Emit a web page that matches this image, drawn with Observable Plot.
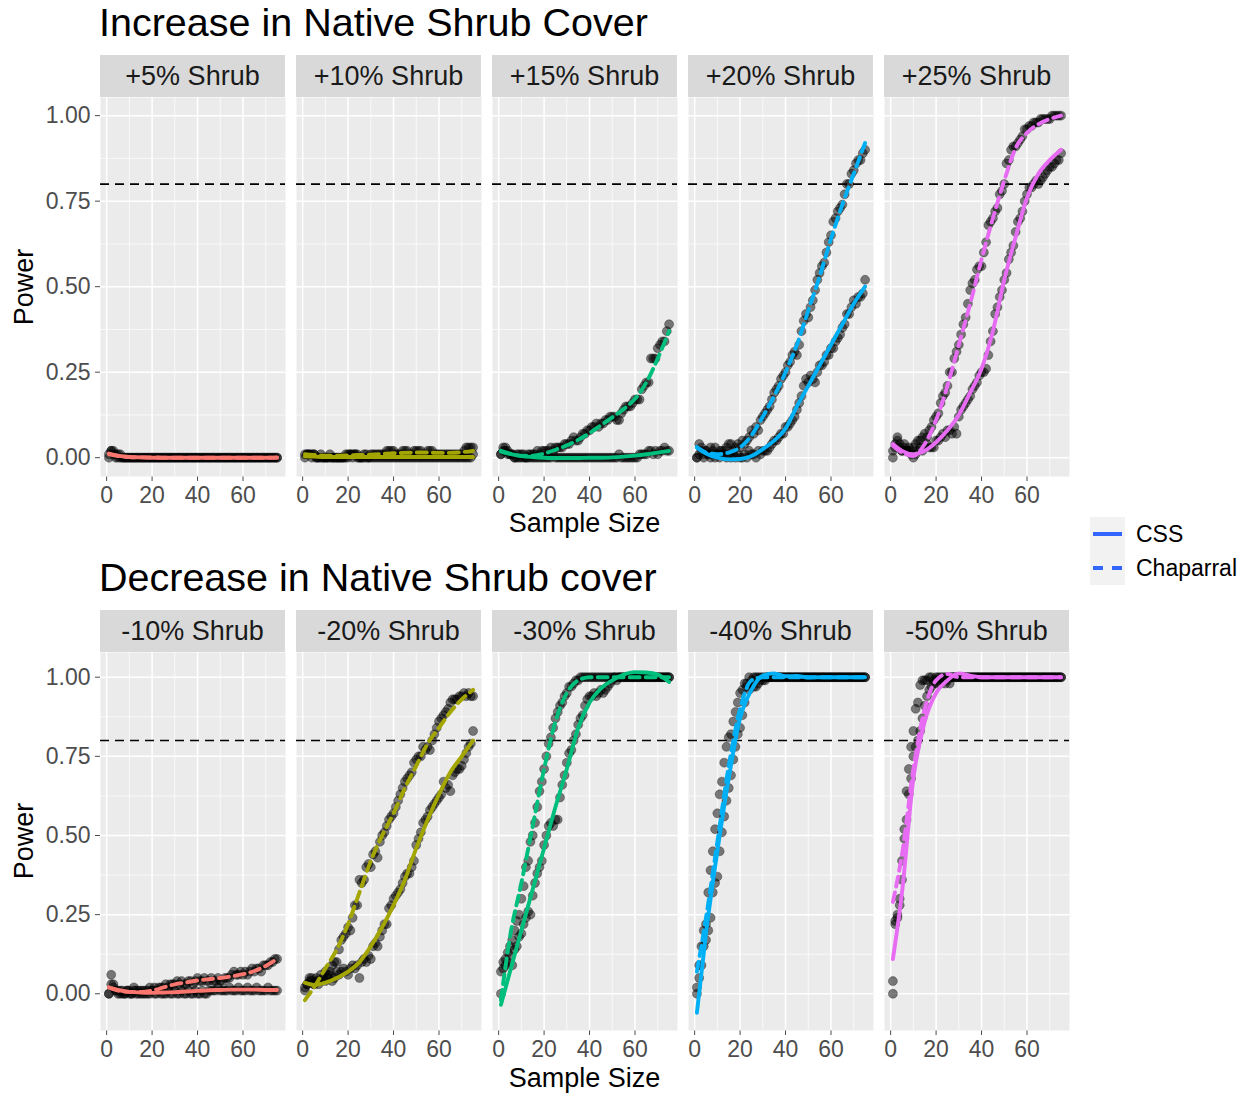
<!DOCTYPE html>
<html>
<head>
<meta charset="utf-8">
<script src="https://cdn.jsdelivr.net/npm/d3@7"></script>
<script src="https://cdn.jsdelivr.net/npm/@observablehq/plot@0.6"></script>
<style>
  html, body { margin: 0; padding: 0; background: #fff; }
  #chart { position: relative; width: 1251px; height: 1095px; font-family: "Liberation Sans", Arial, sans-serif; overflow: hidden; }
  .title { position: absolute; font-size: 39.5px; line-height: 1; color: #000; white-space: nowrap; }
  .strip { position: absolute; background: #D9D9D9; color: #1A1A1A; font-size: 27px; display: flex; align-items: center; justify-content: center; white-space: nowrap; }
  .axtitle { position: absolute; font-size: 27px; line-height: 30px; color: #000; text-align: center; white-space: nowrap; }
  .panel { position: absolute; }
  .legkey { position: absolute; background: #F2F2F2; }
  .legtext { position: absolute; font-size: 23px; line-height: 34px; color: #000; white-space: nowrap; }
</style>
</head>
<body>
<div id="chart"></div>
<script>
// ---------------- data ----------------
const SAMPLE_SIZE = [
  1,2,3,4,5,6,7,8,9,10,11,12,13,14,15,
  16,17,18,19,20,21,22,23,24,25,26,27,28,29,30,
  31,32,33,34,35,36,37,38,39,40,41,42,43,44,45,
  46,47,48,49,50,51,52,53,54,55,56,57,58,59,60,
  61,62,63,64,65,66,67,68,69,70,71,72,73,74,75];
const FIT_X = [1,5,10,15,20,25,30,35,40,45,50,55,60,65,70,75];
const X_TICKS = [0,20,40,60];
const X_MINOR = [10,30,50,70];
const Y_TICKS = [0,0.25,0.5,0.75,1];
const Y_MINOR = [0.125,0.375,0.625,0.875];
const POWER_TARGET = [0.8];
const INCREASE_LABELS = ["+5% Shrub","+10% Shrub","+15% Shrub","+20% Shrub","+25% Shrub"];
const DECREASE_LABELS = ["-10% Shrub","-20% Shrub","-30% Shrub","-40% Shrub","-50% Shrub"];
const FACET_COLORS = ["#F8766D","#A3A500","#00BF7D","#00B0F6","#E76BF3"];
const HABITATS = ["CSS","Chaparral"];
const LEGEND_COLOR = "#3366FF";

// Increase panels: observed power
const css_p05 = [
  0,0.02,0.01,0,0.01,0,0,0,0,0,0,0,0,0,0,
  0,0,0,0,0,0,0,0,0,0,0,0,0,0,0,
  0,0,0,0,0,0,0,0,0,0,0,0,0,0,0,
  0,0,0,0,0,0,0,0,0,0,0,0,0,0,0,
  0,0,0,0,0,0,0,0,0,0,0,0,0,0,0];
const chap_p05 = [
  0.01,0.02,0.02,0.01,0,0.01,0,0,0,0,0,0,0,0,0,
  0,0,0,0,0,0,0,0,0,0,0,0,0,0,0,
  0,0,0,0,0,0,0,0,0,0,0,0,0,0,0,
  0,0,0,0,0,0,0,0,0,0,0,0,0,0,0,
  0,0,0,0,0,0,0,0,0,0,0,0,0,0,0];
const css_p10 = [
  0,0.01,0.01,0,0.01,0,0,0,0,0,0,0,0,0,0,
  0,0,0,0,0,0.01,0,0.01,0,0,0,0,0,0,0,
  0,0,0,0,0,0,0,0,0,0,0,0,0,0,0,
  0,0,0,0,0,0,0,0,0,0,0,0,0,0,0,
  0,0,0,0,0,0,0,0,0,0,0,0,0,0,0.01];
const chap_p10 = [
  0.01,0.01,0.01,0.01,0.01,0,0,0.01,0,0,0,0.01,0,0,0,
  0,0,0,0.01,0.01,0.01,0.01,0.01,0.01,0,0,0.01,0.01,0,0.01,
  0.01,0.01,0.01,0.01,0.01,0.01,0.02,0.02,0.02,0.02,0.01,0.01,0.01,0.02,0.02,
  0.02,0.01,0.01,0.02,0.02,0.02,0.02,0.01,0.01,0.02,0.02,0.02,0.01,0.01,0.01,
  0.01,0.01,0.01,0.01,0.01,0.01,0.01,0.01,0.01,0.01,0.02,0.03,0.03,0.03,0.03];
const css_p15 = [
  0.01,0.02,0.03,0.02,0.01,0.01,0,0.01,0,0.01,0,0,0.01,0,0,
  0,0,0,0,0,0,0,0,0.01,0,0,0,0,0,0,
  0,0,0,0,0,0,0,0,0,0,0,0,0,0,0,
  0,0,0,0,0,0,0,0.01,0,0,0,0,0,0,0,
  0,0.01,0.01,0.01,0.01,0.02,0.02,0.01,0.02,0.01,0.02,0.02,0.03,0.02,0.02];
const chap_p15 = [
  0.01,0.03,0.02,0.01,0.01,0.01,0,0,0.01,0,0.01,0,0,0.01,0.01,
  0.01,0.02,0.01,0.02,0.02,0.02,0.02,0.03,0.02,0.03,0.03,0.03,0.03,0.04,0.04,
  0.04,0.05,0.06,0.05,0.05,0.06,0.07,0.07,0.08,0.08,0.09,0.09,0.10,0.09,0.10,
  0.10,0.11,0.11,0.12,0.12,0.12,0.11,0.11,0.13,0.14,0.15,0.15,0.15,0.16,0.17,
  0.17,0.17,0.20,0.21,0.22,0.22,0.29,0.29,0.29,0.32,0.33,0.34,0.34,0.37,0.39];
const css_p20 = [
  0,0.01,0.02,0,0.02,0.01,0,0.01,0,0.01,0,0.01,0.02,0,0.01,
  0,0.01,0,0.01,0,0,0.01,0,0.02,0.01,0.01,0,0.02,0.01,0.02,
  0.02,0.02,0.03,0.04,0.05,0.05,0.06,0.07,0.07,0.09,0.09,0.10,0.11,0.12,0.14,
  0.16,0.18,0.21,0.23,0.22,0.24,0.23,0.22,0.25,0.27,0.27,0.28,0.30,0.30,0.32,
  0.32,0.34,0.35,0.36,0.38,0.39,0.42,0.42,0.44,0.46,0.45,0.47,0.47,0.48,0.52];
const chap_p20 = [
  0,0.04,0.03,0.01,0.02,0.01,0.03,0.02,0.03,0.01,0.02,0.02,0.01,0.03,0.04,
  0.04,0.02,0.03,0.04,0.03,0.05,0.04,0.05,0.06,0.08,0.07,0.09,0.08,0.11,0.12,
  0.13,0.14,0.15,0.17,0.19,0.20,0.21,0.23,0.24,0.25,0.27,0.28,0.30,0.31,0.30,
  0.33,0.37,0.40,0.42,0.41,0.44,0.46,0.49,0.52,0.54,0.56,0.57,0.60,0.63,0.65,
  0.69,0.70,0.72,0.73,0.74,0.77,0.80,0.80,0.83,0.84,0.86,0.87,0.87,0.89,0.90];
const css_p25 = [
  0.02,0.04,0.06,0.04,0.02,0.03,0.02,0.02,0.01,0,0.01,0.02,0.03,0.02,0.03,
  0.04,0.03,0.03,0.03,0.05,0.05,0.06,0.07,0.06,0.08,0.08,0.07,0.09,0.07,0.12,
  0.14,0.15,0.16,0.17,0.18,0.20,0.21,0.22,0.24,0.25,0.25,0.26,0.30,0.34,0.37,
  0.42,0.44,0.47,0.49,0.52,0.54,0.58,0.60,0.62,0.66,0.69,0.70,0.72,0.75,0.77,
  0.79,0.79,0.80,0.81,0.80,0.81,0.82,0.83,0.84,0.85,0.85,0.86,0.87,0.87,0.89];
const chap_p25 = [
  0,0.03,0.05,0.03,0.02,0.04,0.02,0.03,0.02,0.03,0.04,0.05,0.05,0.06,0.07,
  0.06,0.08,0.09,0.11,0.12,0.13,0.16,0.18,0.19,0.21,0.25,0.25,0.29,0.31,0.33,
  0.36,0.39,0.41,0.45,0.49,0.51,0.52,0.55,0.56,0.56,0.60,0.63,0.68,0.69,0.70,
  0.72,0.73,0.77,0.78,0.80,0.86,0.87,0.90,0.91,0.91,0.92,0.93,0.94,0.96,0.96,
  0.97,0.97,0.98,0.98,0.98,0.99,0.99,0.99,0.99,0.99,1,1,1,1,1];

// Decrease panels: observed power
const css_m10 = [
  0,0.03,0.02,0.01,0,0.01,0,0,0.01,0,0,0.01,0,0,0,
  0.01,0,0,0,0.01,0,0,0.01,0,0,0,0.01,0,0,0.01,
  0,0,0.01,0,0,0.01,0,0,0.01,0,0,0.01,0,0,0.01,
  0.01,0.01,0.01,0.02,0.01,0.01,0.01,0.01,0.02,0.01,0.01,0.01,0.02,0.01,0.01,
  0.01,0.02,0.01,0.01,0.01,0.02,0.01,0.01,0.01,0.01,0.02,0.01,0.01,0.01,0.01];
const chap_m10 = [
  0,0.06,0.03,0.01,0.01,0,0.01,0,0.01,0.01,0,0.02,0.01,0.01,0.01,
  0,0.01,0.01,0.02,0.01,0.02,0.01,0.02,0.02,0.02,0.03,0.02,0.03,0.03,0.03,
  0.04,0.03,0.04,0.03,0.03,0.04,0.04,0.03,0.04,0.05,0.04,0.04,0.05,0.04,0.04,
  0.05,0.04,0.04,0.05,0.04,0.04,0.05,0.05,0.05,0.06,0.07,0.06,0.06,0.07,0.06,
  0.07,0.06,0.07,0.08,0.07,0.08,0.08,0.07,0.09,0.09,0.09,0.10,0.10,0.11,0.11];
const css_m20 = [
  0.02,0.03,0.04,0.05,0.03,0.04,0.03,0.04,0.05,0.04,0.05,0.06,0.04,0.05,0.07,
  0.06,0.07,0.08,0.07,0.06,0.08,0.09,0.08,0.09,0.05,0.10,0.11,0.10,0.12,0.11,
  0.15,0.16,0.15,0.18,0.20,0.22,0.22,0.27,0.28,0.30,0.31,0.32,0.33,0.35,0.37,
  0.38,0.38,0.40,0.42,0.47,0.49,0.51,0.54,0.55,0.56,0.58,0.59,0.60,0.61,0.62,
  0.63,0.67,0.65,0.66,0.64,0.69,0.70,0.71,0.71,0.72,0.74,0.76,0.78,0.79,0.83];
const chap_m20 = [
  0.01,0.03,0.05,0.04,0.03,0.05,0.04,0.06,0.05,0.07,0.06,0.07,0.09,0.10,0.10,
  0.14,0.17,0.18,0.19,0.21,0.20,0.24,0.28,0.28,0.36,0.35,0.36,0.40,0.41,0.40,
  0.44,0.45,0.43,0.48,0.50,0.51,0.53,0.55,0.56,0.57,0.59,0.61,0.63,0.65,0.67,
  0.68,0.69,0.70,0.73,0.74,0.75,0.75,0.78,0.77,0.78,0.77,0.80,0.82,0.84,0.86,
  0.87,0.88,0.89,0.90,0.92,0.93,0.93,0.93,0.94,0.94,0.95,0.94,0.95,0.94,0.94];
const css_m30 = [
  0.07,0.08,0.11,0.10,0.12,0.09,0.14,0.15,0.18,0.19,0.22,0.24,0.26,0.25,0.31,
  0.35,0.38,0.40,0.42,0.47,0.50,0.53,0.54,0.53,0.55,0.55,0.62,0.66,0.69,0.73,
  0.76,0.77,0.80,0.82,0.85,0.87,0.88,0.91,0.93,0.94,0.94,0.95,0.94,0.95,0.96,
  0.95,0.96,0.97,0.98,0.99,1,0.99,1,1,1,1,1,1,1,1,
  1,1,1,1,1,1,1,1,1,1,1,1,1,1,1];
const chap_m30 = [
  0,0.10,0.09,0.13,0.15,0.17,0.20,0.23,0.25,0.30,0.34,0.40,0.42,0.48,0.50,
  0.54,0.59,0.64,0.67,0.71,0.75,0.79,0.81,0.84,0.87,0.89,0.91,0.92,0.94,0.95,
  0.97,0.97,0.98,0.99,0.99,1,1,1,1,1,1,1,1,1,1,
  1,1,1,1,1,1,1,1,1,1,1,1,1,1,1,
  1,1,1,1,1,1,1,1,1,1,1,1,1,1,1];
const css_m40 = [
  0.02,0.05,0.09,0.15,0.17,0.20,0.24,0.32,0.35,0.37,0.45,0.51,0.56,0.61,0.65,
  0.69,0.74,0.78,0.82,0.84,0.88,0.92,0.97,0.96,0.98,0.97,0.97,0.98,0.99,0.99,
  0.99,1,1,1,1,1,1,1,1,1,1,1,1,1,1,
  1,1,1,1,1,1,1,1,1,1,1,1,1,1,1,
  1,1,1,1,1,1,1,1,1,1,1,1,1,1,1];
const chap_m40 = [
  0,0.09,0.15,0.20,0.22,0.32,0.39,0.45,0.52,0.57,0.63,0.67,0.73,0.78,0.81,
  0.82,0.86,0.89,0.92,0.95,0.96,0.98,0.98,1,0.99,1,1,1,1,1,
  1,1,1,1,1,1,1,1,1,1,1,1,1,1,1,
  1,1,1,1,1,1,1,1,1,1,1,1,1,1,1,
  1,1,1,1,1,1,1,1,1,1,1,1,1,1,1];
const css_m50 = [
  0.04,0.22,0.24,0.28,0.36,0.49,0.55,0.63,0.68,0.75,0.78,0.80,0.83,0.87,0.91,
  0.94,0.96,0.97,0.98,0.98,0.99,0.98,0.99,0.98,0.99,0.98,1,1,1,1,
  1,1,1,1,1,1,1,1,1,1,1,1,1,1,1,
  1,1,1,1,1,1,1,1,1,1,1,1,1,1,1,
  1,1,1,1,1,1,1,1,1,1,1,1,1,1,1];
const chap_m50 = [
  0,0.23,0.25,0.30,0.42,0.52,0.64,0.71,0.78,0.83,0.90,0.92,0.975,0.99,0.99,
  0.99,1,1,0.99,1,1,1,1,1,1,1,1,1,1,1,
  1,1,1,1,1,1,1,1,1,1,1,1,1,1,1,
  1,1,1,1,1,1,1,1,1,1,1,1,1,1,1,
  1,1,1,1,1,1,1,1,1,1,1,1,1,1,1];

// Smoothed (loess) power curves, read at FIT_X
const cssFit_p05  = [0.012,0.006,0.002,0.001,0,0,0,0,0,0,0,0,0,0,0,0.001];
const chapFit_p05 = [0.010,0.005,0.002,0.001,0.001,0,0,0,0,0,0,0,0,0,0,0];
const cssFit_p10  = [0.004,0.003,0.002,0.002,0.002,0.002,0.002,0.002,0.002,0.002,0.002,0.002,0.002,0.002,0.002,0.002];
const chapFit_p10 = [0.010,0.008,0.006,0.006,0.007,0.008,0.009,0.011,0.013,0.014,0.015,0.015,0.014,0.014,0.016,0.020];
const cssFit_p15  = [0.018,0.011,0.005,0.002,0,-0.001,-0.001,-0.001,0,0,0.001,0.003,0.006,0.010,0.015,0.020];
const chapFit_p15 = [0.020,0.012,0.006,0.006,0.012,0.023,0.036,0.052,0.072,0.095,0.118,0.142,0.172,0.220,0.290,0.370];
const cssFit_p20  = [0.030,0.012,0,-0.005,-0.004,0.005,0.025,0.050,0.085,0.150,0.210,0.270,0.330,0.390,0.450,0.500];
const chapFit_p20 = [0.030,0.015,0.010,0.015,0.030,0.065,0.120,0.180,0.250,0.330,0.430,0.530,0.640,0.740,0.830,0.920];
const cssFit_p25  = [0.040,0.020,0.010,0.020,0.045,0.080,0.125,0.190,0.260,0.370,0.520,0.645,0.760,0.830,0.870,0.900];
const chapFit_p25 = [0.035,0.015,0.005,0.040,0.110,0.210,0.330,0.450,0.580,0.700,0.810,0.905,0.950,0.975,0.990,1.000];
const cssFit_m10  = [0.020,0.012,0.006,0.004,0.003,0.004,0.005,0.007,0.009,0.011,0.012,0.013,0.013,0.013,0.012,0.012];
const chapFit_m10 = [0.020,0.010,0.006,0.006,0.010,0.020,0.030,0.036,0.042,0.046,0.050,0.055,0.062,0.072,0.088,0.110];
const cssFit_m20  = [0.035,0.028,0.035,0.050,0.070,0.100,0.150,0.210,0.280,0.360,0.460,0.550,0.630,0.700,0.750,0.800];
const chapFit_m20 = [-0.020,0.020,0.080,0.140,0.220,0.320,0.420,0.500,0.570,0.650,0.720,0.790,0.840,0.890,0.930,0.960];
const cssFit_m30  = [-0.035,0.070,0.200,0.330,0.460,0.590,0.710,0.840,0.920,0.965,0.990,1.008,1.016,1.015,1.008,0.985];
const chapFit_m30 = [-0.020,0.180,0.350,0.530,0.710,0.860,0.950,0.990,1.000,1.000,1.000,1.000,1.000,1.000,1.000,1.000];
const cssFit_m40  = [-0.060,0.190,0.450,0.680,0.870,0.960,1.005,1.012,1.003,1.004,0.999,1.000,1.000,1.000,1.000,1.000];
const chapFit_m40 = [0.070,0.240,0.480,0.720,0.900,0.990,1.000,1.000,1.000,1.000,1.000,1.000,1.000,1.000,1.000,1.000];
const cssFit_m50  = [0.110,0.320,0.680,0.860,0.950,0.990,1.012,1.005,1.000,1.000,1.000,1.000,1.000,1.000,1.000,1.000];
const chapFit_m50 = [0.290,0.440,0.710,0.900,0.990,1.010,1.000,1.000,1.000,1.000,1.000,1.000,1.000,1.000,1.000,1.000];

// ---------------- layout ----------------
const FONT = '"Liberation Sans", Arial, Helvetica, sans-serif';
const PANEL_W = 185, PANEL_STEP = 196, PANEL_LEFT = 100, LEFT_MARGIN = 100, BOTTOM_MARGIN = 42;

const rows = [
  {title: "Increase in Native Shrub Cover", titleTop: 3, stripTop: 55, panelTop: 97, panelH: 379,
   yDomain: [-0.055, 1.053], labels: INCREASE_LABELS, xTitleTop: 508,
   css: [css_p05, css_p10, css_p15, css_p20, css_p25],
   chap: [chap_p05, chap_p10, chap_p15, chap_p20, chap_p25],
   cssFit: [cssFit_p05, cssFit_p10, cssFit_p15, cssFit_p20, cssFit_p25],
   chapFit: [chapFit_p05, chapFit_p10, chapFit_p15, chapFit_p20, chapFit_p25]},
  {title: "Decrease in Native Shrub cover", titleTop: 558, stripTop: 610, panelTop: 652, panelH: 378,
   yDomain: [-0.116, 1.078], labels: DECREASE_LABELS, xTitleTop: 1063,
   css: [css_m10, css_m20, css_m30, css_m40, css_m50],
   chap: [chap_m10, chap_m20, chap_m30, chap_m40, chap_m50],
   cssFit: [cssFit_m10, cssFit_m20, cssFit_m30, cssFit_m40, cssFit_m50],
   chapFit: [chapFit_m10, chapFit_m20, chapFit_m30, chapFit_m40, chapFit_m50]}
];

const chart = document.getElementById("chart");
function addDiv(cls, text, styles) {
  const d = document.createElement("div");
  d.className = cls;
  if (text != null) d.textContent = text;
  Object.assign(d.style, styles);
  chart.appendChild(d);
  return d;
}

function makePanel(row, k) {
  const first = k === 0;
  const points = SAMPLE_SIZE.flatMap((n, i) => [
    {n, power: row.css[k][i], habitat: HABITATS[0]},
    {n, power: row.chap[k][i], habitat: HABITATS[1]}
  ]);
  const cssFit = FIT_X.map((n, i) => ({n, power: row.cssFit[k][i]}));
  const chapFit = FIT_X.map((n, i) => ({n, power: row.chapFit[k][i]}));
  const color = FACET_COLORS[k];
  return Plot.plot({
    width: PANEL_W + (first ? LEFT_MARGIN : 0),
    height: row.panelH + BOTTOM_MARGIN,
    marginLeft: first ? LEFT_MARGIN : 0,
    marginRight: 0,
    marginTop: 0,
    marginBottom: BOTTOM_MARGIN,
    style: {fontFamily: FONT, fontSize: "23px", color: "#4D4D4D", background: "transparent", overflow: "visible"},
    x: {domain: [-2.7, 78.7], ticks: X_TICKS, tickSize: 5, tickPadding: 5.5, label: null},
    y: first
      ? {domain: row.yDomain, ticks: Y_TICKS, tickFormat: d3.format(".2f"), tickSize: 5, tickPadding: 5, label: null}
      : {domain: row.yDomain, axis: null},
    marks: [
      Plot.frame({fill: "#EBEBEB", stroke: "none"}),
      Plot.ruleY(Y_MINOR, {stroke: "#FFFFFF", strokeWidth: 0.7}),
      Plot.ruleX(X_MINOR, {stroke: "#FFFFFF", strokeWidth: 0.7}),
      Plot.ruleY(Y_TICKS, {stroke: "#FFFFFF", strokeWidth: 1.5}),
      Plot.ruleX(X_TICKS, {stroke: "#FFFFFF", strokeWidth: 1.5}),
      Plot.dot(points, {x: "n", y: "power", r: 4.5, fill: "#000", fillOpacity: 0.5, stroke: "#000", strokeOpacity: 0.5, strokeWidth: 0.6}),
      Plot.ruleY(POWER_TARGET, {stroke: "#000", strokeWidth: 1.7, strokeDasharray: "9,6"}),
      Plot.line(cssFit, {x: "n", y: "power", stroke: color, strokeWidth: 3.9, curve: "monotone-x"}),
      Plot.line(chapFit, {x: "n", y: "power", stroke: color, strokeWidth: 3.9, strokeDasharray: "10,6", curve: "monotone-x"})
    ]
  });
}

rows.forEach(row => {
  addDiv("title", row.title, {left: "99px", top: row.titleTop + "px"});
  row.labels.forEach((lab, k) => {
    const left = PANEL_LEFT + k * PANEL_STEP;
    addDiv("strip", lab, {left: left + "px", top: row.stripTop + "px", width: PANEL_W + "px", height: (row.panelTop - row.stripTop) + "px"});
    const svg = makePanel(row, k);
    const wrap = addDiv("panel", null, {left: (left - (k === 0 ? LEFT_MARGIN : 0)) + "px", top: row.panelTop + "px"});
    wrap.appendChild(svg);
  });
  // axis titles
  const midY = row.panelTop + row.panelH / 2;
  addDiv("axtitle", "Power", {left: (23.6 - 100) + "px", top: (midY - 15) + "px", width: "200px", transform: "rotate(-90deg)"});
  addDiv("axtitle", "Sample Size", {left: (584.5 - 200) + "px", top: row.xTitleTop + "px", width: "400px"});
});

// legend
HABITATS.forEach((h, i) => {
  const top = 517 + i * 34;
  const key = addDiv("legkey", null, {left: "1090px", top: top + "px", width: "35px", height: "34px"});
  const line = document.createElement("div");
  Object.assign(line.style, {position: "absolute", left: "3px", top: "15px", width: "29px", height: "3.6px"});
  line.style.background = i === 0
    ? LEGEND_COLOR
    : "linear-gradient(to right, " + LEGEND_COLOR + " 0 10px, transparent 10px 19px, " + LEGEND_COLOR + " 19px 29px)";
  key.appendChild(line);
  addDiv("legtext", h, {left: "1136px", top: top + "px"});
});
</script>
</body>
</html>
